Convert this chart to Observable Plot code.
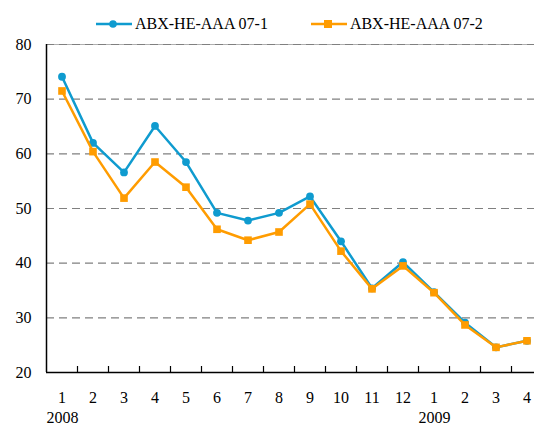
<!DOCTYPE html>
<html>
<head>
<meta charset="utf-8">
<script src="https://cdn.jsdelivr.net/npm/d3@7"></script>
<script src="https://cdn.jsdelivr.net/npm/@observablehq/plot@0.6"></script>
<style>
  html, body { margin: 0; padding: 0; background: #fff; }
  body { width: 534px; height: 426px; overflow: hidden; font-family: "Liberation Serif", "Times New Roman", serif; }
  #legend { height: 36px; box-sizing: border-box; padding-top: 12px; display: flex; align-items: center; font-size: 16px; color: #000; }
  .item { display: flex; align-items: center; }
  .item svg { display: block; }
</style>
</head>
<body>
<div id="legend"></div>
<div id="chart"></div>
<script>
const months = ["1","2","3","4","5","6","7","8","9","10","11","12","1","2","3","4"];
const yearLabels = [{label: "2008", start: 0}, {label: "2009", start: 12}];
const series1Name = "ABX-HE-AAA 07-1";
const series2Name = "ABX-HE-AAA 07-2";
const series1 = [74.1, 62.0, 56.6, 65.1, 58.5, 49.2, 47.8, 49.2, 52.2, 44.0, 35.4, 40.2, 34.7, 29.1, 24.6, 25.8];
const series2 = [71.5, 60.4, 51.9, 58.5, 53.9, 46.2, 44.2, 45.7, 50.8, 42.2, 35.3, 39.5, 34.6, 28.7, 24.6, 25.8];
const yTicks = [20, 30, 40, 50, 60, 70, 80];
const gridTicks = [30, 40, 50, 60, 70, 80];

const blue = "#0f9bcf";
const orange = "#ff9c00";

const d1 = series1.map((v, i) => ({pos: i + 0.5, v}));
const d2 = series2.map((v, i) => ({pos: i + 0.5, v}));
const labelData = months.map((m, i) => ({pos: i + 0.5, m}));
const tickPos = d3.range(1, months.length);

// Legend
const legend = document.getElementById("legend");
function legendItem(color, symbol, name, marginLeft) {
  const div = document.createElement("div");
  div.className = "item";
  div.style.marginLeft = marginLeft + "px";
  const s = d3.create("svg").attr("width", 36).attr("height", 12);
  s.append("line").attr("x1", 0).attr("x2", 36).attr("y1", 6).attr("y2", 6).attr("stroke", color).attr("stroke-width", 2.5);
  if (symbol === "circle") s.append("circle").attr("cx", 17).attr("cy", 6).attr("r", 3.8).attr("fill", color);
  else s.append("rect").attr("x", 13).attr("y", 2).attr("width", 8).attr("height", 8).attr("fill", color);
  div.appendChild(s.node());
  const t = document.createElement("span");
  t.textContent = name;
  t.style.marginLeft = "3px";
  div.appendChild(t);
  return div;
}
legend.appendChild(legendItem(blue, "circle", series1Name, 96));
legend.appendChild(legendItem(orange, "square", series2Name, 43));

const chart = Plot.plot({
  width: 534,
  height: 390,
  marginLeft: 46,
  marginRight: 0,
  marginTop: 8,
  marginBottom: 54,
  style: {fontFamily: "Liberation Serif, Times New Roman, serif", fontSize: "16px", color: "#000", background: "#fff", overflow: "hidden"},
  x: {type: "linear", domain: [0, months.length], range: [46, 542], axis: null},
  y: {domain: [20, 80], label: null},
  marks: [
    Plot.ruleY([80], {stroke: "#b0b0b0", strokeWidth: 1.2}),
    Plot.ruleY(gridTicks, {stroke: "#808080", strokeWidth: 1.2, strokeDasharray: "8,5"}),
    Plot.axisY(yTicks, {tickSize: 0, tickPadding: 15, fontSize: 16, fill: "#000", label: null}),
    Plot.ruleX(tickPos, {x: d => d, y1: 20, y2: 21.1, stroke: "#000", strokeWidth: 1.2}),
    Plot.ruleY([20], {stroke: "#000", strokeWidth: 1.5}),
    Plot.ruleX([0], {y1: 20, y2: 80, stroke: "#000", strokeWidth: 1.5}),
    Plot.text(labelData, {x: "pos", y: () => 20, text: "m", dy: 25, fontSize: 16, fill: "#000"}),
    Plot.text(yearLabels, {x: "start", y: () => 20, text: "label", dy: 45, textAnchor: "start", fontSize: 16, fill: "#000"}),
    Plot.line(d1, {x: "pos", y: "v", stroke: blue, strokeWidth: 2.5}),
    Plot.dot(d1, {x: "pos", y: "v", fill: blue, r: 3.9, symbol: "circle"}),
    Plot.line(d2, {x: "pos", y: "v", stroke: orange, strokeWidth: 2.5}),
    Plot.dot(d2, {x: "pos", y: "v", fill: orange, r: 4.3, symbol: "square"})
  ]
});
document.getElementById("chart").appendChild(chart);
</script>
</body>
</html>
